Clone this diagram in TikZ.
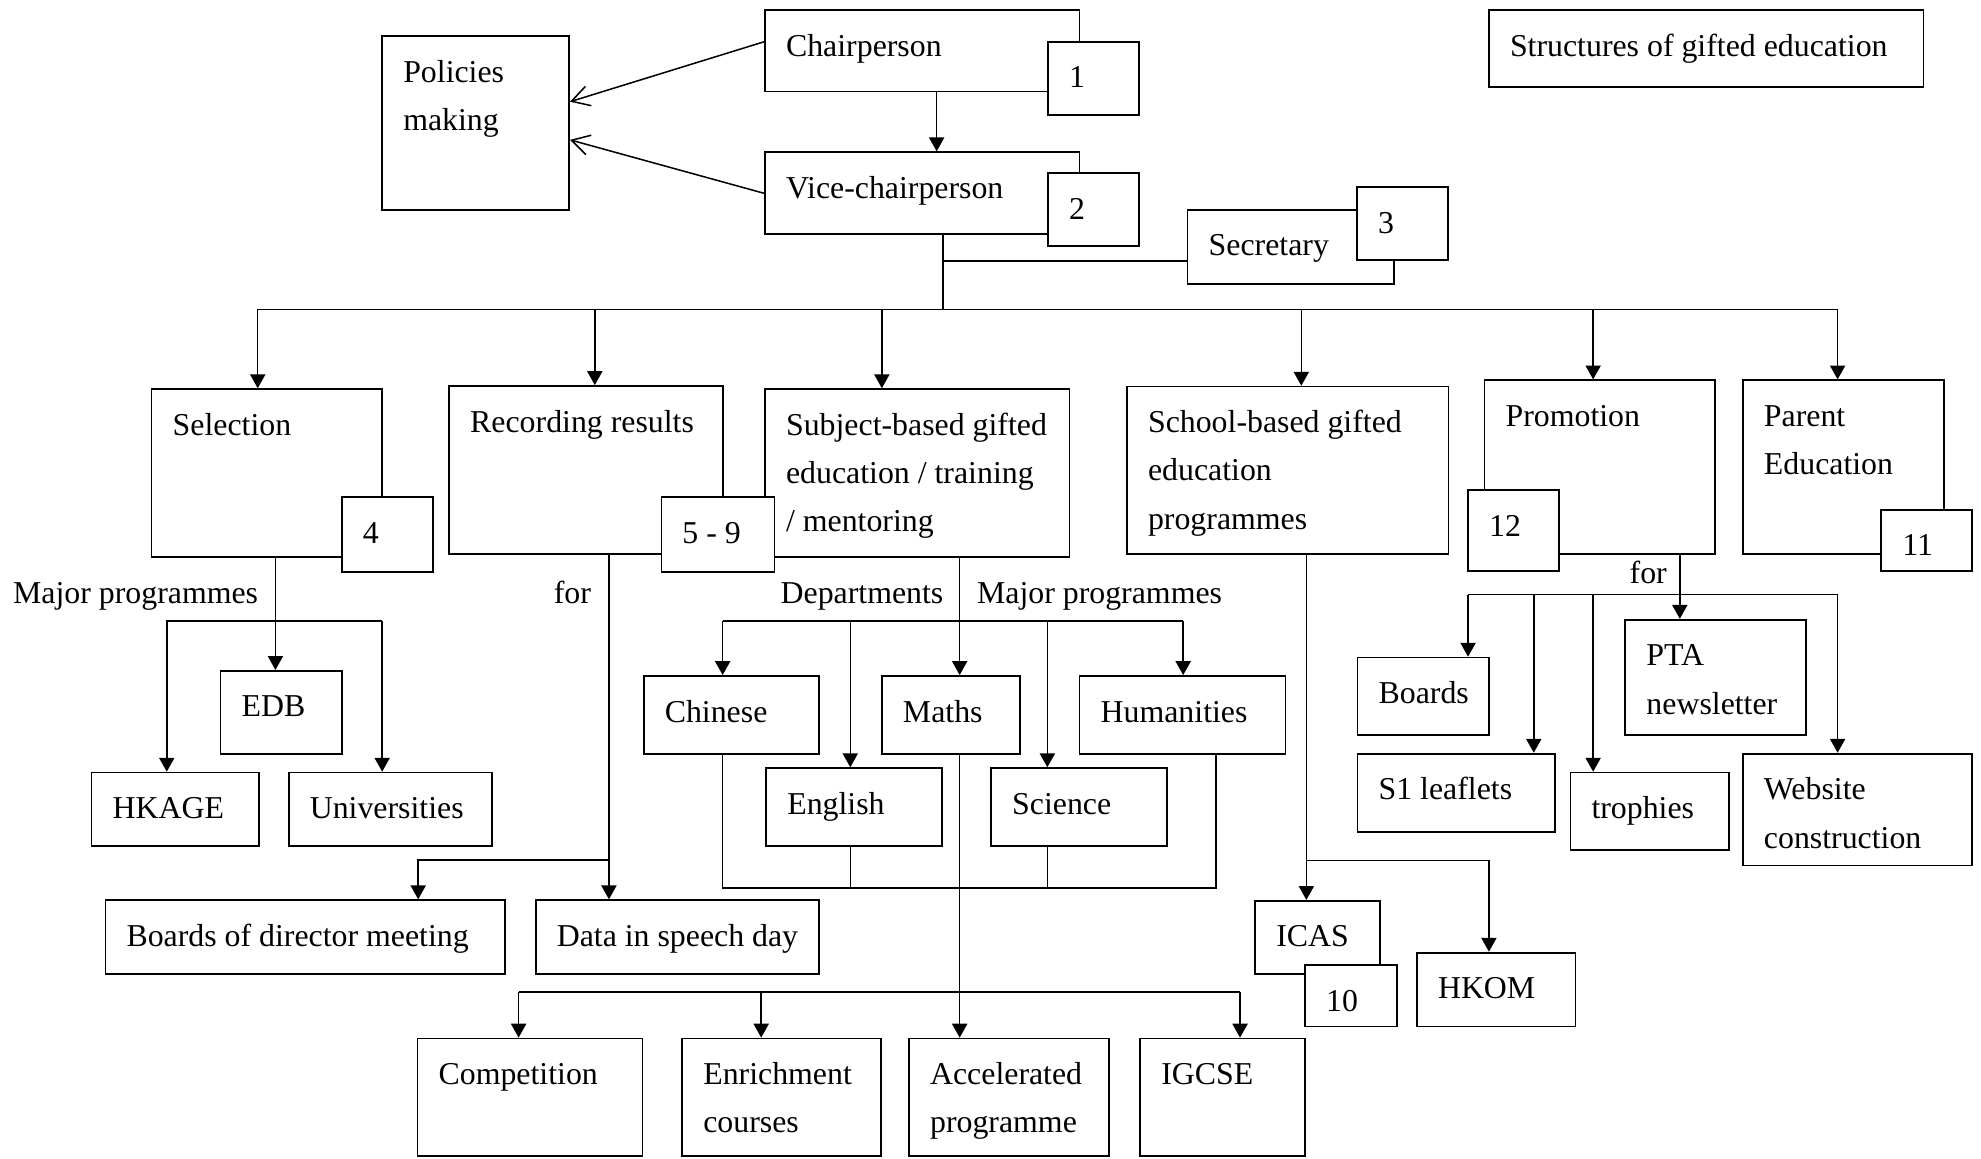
\documentclass[tikz,border=0pt]{standalone}
\usepackage{fontspec}
\setmainfont{Liberation Serif}
\usetikzlibrary{arrows.meta,fit}
\newcommand{\gbox}[6]{%
  \node[box, fit={(#2,#3) (#4,#5)}] (#1) {};
  \node[txt, anchor=north west] (#1-t) at ([shift={(17,12.8)}]#1.north west) {\rule{0pt}{12pt}#6};}

\begin{document}
\begin{tikzpicture}[
  x=0.5pt, y=-0.5pt,
  box/.style={draw, fill=white, line width=0.7pt, inner sep=0pt},
  txt/.style={anchor=base west, inner sep=0pt, align=left, font=\fontsize{12.6}{19.1}\selectfont},
  conn/.style={line width=0.6pt},
  arrow/.style={conn, -{Triangle[length=5.5pt,width=6pt]}},
  openarrow/.style={conn, -{Straight Barb[length=7pt,width=8pt]}}
]
\useasboundingbox (0,0) rectangle (1568,917);
\gbox{title}{1178.5}{8}{1522.5}{69}{Structures of gifted education}
\gbox{policy}{302.5}{28.5}{450.5}{166.5}{Policies\\making}
\gbox{chair}{605.5}{8}{854.5}{72.5}{Chairperson}
\gbox{n1}{829.5}{33}{901.5}{91}{1}
\gbox{vice}{605.5}{120.5}{854.5}{185.5}{Vice-chairperson}
\gbox{n2}{829.5}{137}{901.5}{194.5}{2}
\gbox{sec}{940}{166}{1103.5}{225}{Secretary}
\gbox{n3}{1074}{148}{1146}{206}{3}
\gbox{sel}{120}{308}{302.5}{441}{Selection}
\gbox{n4}{270.5}{393.5}{342.5}{452.5}{4}
\gbox{rec}{355.5}{305.5}{572.5}{438.5}{Recording results}
\gbox{subj}{605.5}{308}{846.5}{441}{Subject-based gifted\\education / training\\/ mentoring}
\gbox{n59}{523.5}{393.5}{613}{452.5}{5 - 9}
\gbox{school}{892}{306}{1146.5}{438.5}{School-based gifted\\education\\programmes}
\gbox{promo}{1175}{301}{1357.5}{438.5}{Promotion}
\gbox{n12}{1162}{388}{1234}{452}{12}
\gbox{parent}{1379.5}{301}{1538.5}{438.5}{Parent\\Education}
\gbox{n11}{1489}{403.5}{1561}{452}{11}
\gbox{edb}{174.5}{531}{270.5}{596.5}{EDB}
\gbox{hkage}{72.5}{611.5}{205}{669.5}{HKAGE}
\gbox{univ}{228.5}{611.5}{389.5}{669.5}{Universities}
\gbox{board}{83.5}{712.5}{400}{771}{Boards of director meeting}
\gbox{data}{424}{712.5}{648.5}{771}{Data in speech day}
\gbox{chin}{509.5}{535}{648.5}{597}{Chinese}
\gbox{maths}{698}{535}{807.5}{597}{Maths}
\gbox{hum}{854.5}{535}{1017.5}{597}{Humanities}
\gbox{eng}{606.5}{608}{745.5}{669.5}{English}
\gbox{sci}{784.5}{608}{923.5}{669.5}{Science}
\gbox{comp}{330.5}{822}{508.5}{915}{Competition}
\gbox{enr}{540}{822}{697.5}{915}{Enrichment\\courses}
\gbox{acc}{719.5}{822}{877.5}{915}{Accelerated\\programme}
\gbox{igcse}{902.5}{822}{1033}{915}{IGCSE}
\gbox{icas}{993.5}{713}{1092}{771}{ICAS}
\gbox{n10}{1033}{764}{1106}{812.5}{10}
\gbox{hkom}{1121.5}{754}{1247}{812.5}{HKOM}
\gbox{brd}{1074.5}{520.5}{1178.5}{581.5}{Boards}
\gbox{pta}{1286.5}{490.5}{1429.5}{581.5}{PTA\\newsletter}
\gbox{s1}{1074.5}{596.5}{1231}{658.5}{S1 leaflets}
\gbox{troph}{1243}{611.5}{1368.5}{673}{trophies}
\gbox{web}{1379.5}{596.5}{1561}{685}{Website\\construction}
\node[txt] (major1) at (10,477.5) {Major programmes};
\node[txt] (for1) at (438,477.5) {for};
\node[txt] (dept) at (617.5,477.5) {Departments};
\node[txt] (major2) at (773,477.5) {Major programmes};
\node[txt] (for2) at (1289.5,462) {for};
\draw[openarrow] ([yshift=3.6pt]chair.west) -- ([yshift=8.5pt]policy.east);
\draw[openarrow] (vice.west) -- ([yshift=-6.6pt]policy.east);
\draw[arrow] ([xshift=5.7pt]chair.south) -- ([xshift=5.7pt]vice.north);
\coordinate (top) at (746.3,244.8);
\coordinate (secin) at (940,206.6);
\draw[conn] (vice.south -| top) -- (top);
\draw[conn] (secin) -- (secin -| top);
\draw[conn] (204,244.8) -- (1454.5,244.8);
\foreach \x/\n in {204/sel, 470.8/rec, 698/subj, 1030/school, 1261/promo, 1454.5/parent}
  \draw[arrow] (\x,244.8) -- (\x,0 |- \n.north);
\draw[arrow] (218,0 |- sel.south) -- (218,0 |- edb.north);
\draw[arrow] (302.5,491.5) -- (302.5,0 |- univ.north);
\draw[arrow] (302.5,491.5) -| (132,0 |- hkage.north);
\draw[arrow] (482,0 |- rec.south) -- (482,0 |- data.north);
\draw[arrow] (482,680.7) -| (331,0 |- board.north);
\draw[arrow] (759.6,0 |- subj.south) -- (759.6,0 |- maths.north);
\draw[conn] (572,491.5) -- (936.5,491.5);
\foreach \x/\n in {572/chin, 673/eng, 829/sci, 936.5/hum}
  \draw[arrow] (\x,491.5) -- (\x,0 |- \n.north);
\draw[conn] (572,0 |- chin.south) |- (962.5,703) -- (962.5,0 |- hum.south);
\draw[conn] (673,0 |- eng.south) -- (673,703);
\draw[conn] (829,0 |- sci.south) -- (829,703);
\draw[arrow] (759.6,0 |- maths.south) -- (759.6,0 |- acc.north);
\draw[conn] (410.5,785) -- (981.5,785);
\foreach \x/\n in {410.5/comp, 602.5/enr, 981.5/igcse}
  \draw[arrow] (\x,785) -- (\x,0 |- \n.north);
\draw[arrow] (1034,0 |- school.south) -- (1034,0 |- icas.north);
\draw[arrow] (1034,681) -| (1178.5,0 |- hkom.north);
\draw[arrow] (1329.6,0 |- promo.south) -- (1329.6,0 |- pta.north);
\draw[conn] (1162,470.7) -- (1454.5,470.7);
\foreach \x/\n in {1162/brd, 1214/s1, 1261/troph, 1454.5/web}
  \draw[arrow] (\x,470.7) -- (\x,0 |- \n.north);
\end{tikzpicture}
\end{document}
